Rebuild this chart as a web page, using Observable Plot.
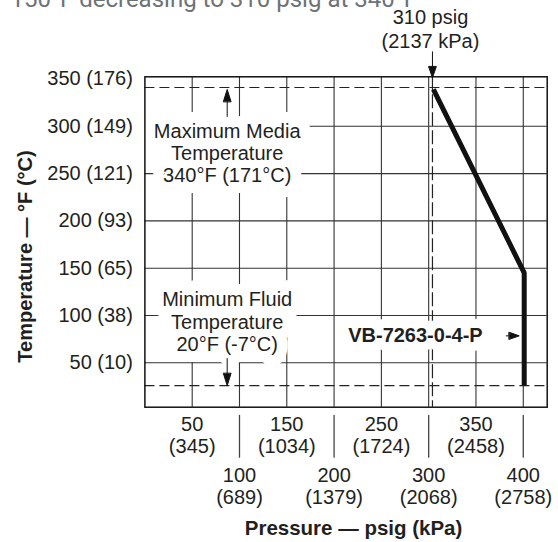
<!DOCTYPE html>
<html><head><meta charset="utf-8">
<script src="https://cdn.jsdelivr.net/npm/d3@7"></script>
<script src="https://cdn.jsdelivr.net/npm/@observablehq/plot@0.6"></script>
<style>body{margin:0;background:#fff;} svg{display:block}</style>
</head><body><div id="chart"></div>
<script>
// Data
const tempTicks = [50, 100, 150, 200, 250, 300, 350];
const tempCelsius = [10, 38, 65, 93, 121, 149, 176];
const pressureRow1 = [50, 150, 250, 350];
const kpaRow1 = [345, 1034, 1724, 2458];
const pressureRow2 = [100, 200, 300, 400];
const kpaRow2 = [689, 1379, 2068, 2758];
const gridPressure = [50, 100, 150, 200, 250, 300, 350, 400];
const gridTemp = [50, 100, 150, 200, 250, 300];
const curvePressure = [305, 401, 401];
const curveTemp = [339, 145, 26];
const limitTemps = [341, 26];          // max media / min fluid (as drawn)
const ratedPressure = [304];           // 310 psig marker (as drawn)
const annotationText = ["Maximum Media\nTemperature\n340°F (171°C)", "Minimum Fluid\nTemperature\n20°F (-7°C)"];
const annotationPressure = [87, 87];
const annotationTemp = [272, 93.7];
const modelLabel = ["VB-7263-0-4-P"];
const modelPressure = [286];
const modelTemp = [78.5];
const ratedLabel = ["310 psig\n(2137 kPa)"];
const headerText = ["150°F decreasing to 310 psig at 340°F"];
const xTitle = ["Pressure — psig (kPa)"];
const yTitle = ["Temperature — °F (°C)"];

const curve = curvePressure.map((p, i) => ({p, t: curveTemp[i]}));
const annotations = annotationText.map((text, i) => ({text, p: annotationPressure[i], t: annotationTemp[i]}));

const ink = "#231f20";
const fs = 20;
const lineShape = {draw(ctx, l) { ctx.moveTo(0, 0); ctx.lineTo(0, -l); }};
const arrowShape = (head, half) => ({draw(ctx, l) {
  ctx.moveTo(0, 0); ctx.lineTo(0, -l + head * 0.8);
  ctx.moveTo(-half, -l + head); ctx.lineTo(0, -l); ctx.lineTo(half, -l + head); ctx.closePath();
}});
const annotOpts = {x: "p", y: "t", text: "text", lineHeight: 1.12, fontSize: fs};
const modelOpts = {x: () => modelPressure[0], y: () => modelTemp[0], text: d => d, fontWeight: "bold", fontSize: fs};

const chart = Plot.plot({
  width: 558, height: 542,
  marginLeft: 144.4, marginRight: 11.3, marginTop: 76.3, marginBottom: 135.3,
  x: {domain: [0, 425.3], axis: null},
  y: {domain: [3.1, 352.3], axis: null},
  style: {fontFamily: "'Liberation Sans', Arial, sans-serif", fontSize: fs + "px", color: ink, background: "white"},
  marks: [
    Plot.gridX(gridPressure, {stroke: "#333", strokeOpacity: 1, strokeWidth: 1.1}),
    Plot.gridY(gridTemp, {stroke: "#333", strokeOpacity: 1, strokeWidth: 1.1}),
    Plot.ruleY(limitTemps, {stroke: "#222", strokeWidth: 1.2, strokeDasharray: "10,5"}),
    Plot.ruleX(ratedPressure, {stroke: "#222", strokeWidth: 1.2, strokeDasharray: "14,4"}),
    // white backing behind labels (cuts the grid like the reference)
    Plot.text(annotations, {...annotOpts, fill: "white", stroke: "white", strokeWidth: 22}),
    Plot.text(modelLabel, {...modelOpts, fill: "white", stroke: "white", strokeWidth: 18}),
    Plot.text(annotations, {...annotOpts, fill: ink}),
    Plot.text(modelLabel, {...modelOpts, fill: ink}),
    Plot.line(curve, {x: "p", y: "t", stroke: "#111", strokeWidth: 5, strokeLinejoin: "miter", strokeLinecap: "butt"}),
    Plot.frame({stroke: "#111", strokeWidth: 1.5}),
    // arrows
    Plot.vector([limitTemps[0]], {x: () => annotationPressure[0], y: d => d, anchor: "end", length: 27, rotate: 0, dy: 2, shape: arrowShape(12, 3.8), fill: "#111", stroke: "#111", strokeWidth: 1}),
    Plot.vector([limitTemps[1]], {x: () => annotationPressure[1], y: d => d, anchor: "end", length: 27, rotate: 180, shape: arrowShape(12, 3.8), fill: "#111", stroke: "#111", strokeWidth: 1}),
    Plot.vector(ratedPressure, {x: d => d, frameAnchor: "top", anchor: "end", length: 26, rotate: 180, dy: 1, shape: arrowShape(11, 3.8), fill: "#111", stroke: "#111", strokeWidth: 1}),
    Plot.vector([curvePressure[1]], {x: d => d, y: () => modelTemp[0], anchor: "end", length: 13, rotate: 90, dx: -5, shape: arrowShape(10, 3.5), fill: "#111", stroke: "#111", strokeWidth: 1}),
    // y axis
    Plot.axisY(tempTicks, {tickSize: 0, tickPadding: 12, fontSize: fs, fill: ink, label: null, tickFormat: d => `${d} (${tempCelsius[tempTicks.indexOf(d)]})`}),
    // x axis two rows
    Plot.text(pressureRow1, {x: d => d, frameAnchor: "bottom", lineAnchor: "top", dy: 8, lineHeight: 1.1, fontSize: fs, fill: ink, text: (d, i) => `${d}\n(${kpaRow1[i]})`}),
    Plot.vector(pressureRow2, {x: d => d, frameAnchor: "bottom", anchor: "start", length: 41.7, rotate: 180, dy: 8.3, shape: lineShape, stroke: "#444", strokeWidth: 1.3}),
    Plot.text(pressureRow2, {x: d => d, frameAnchor: "bottom", lineAnchor: "top", dy: 59.5, lineHeight: 1.1, fontSize: fs, fill: ink, text: (d, i) => `${d}\n(${kpaRow2[i]})`}),
    // labels
    Plot.text(ratedLabel, {x: () => ratedPressure[0], frameAnchor: "top", lineAnchor: "middle", dy: -48.3, dx: -2, lineHeight: 1.17, fontSize: fs, fill: ink, text: d => d}),
    Plot.text(xTitle, {frameAnchor: "bottom", textAnchor: "middle", lineAnchor: "middle", dx: 7.5, dy: 120.8, fontWeight: "bold", fontSize: 20.5, fill: ink, text: d => d}),
    Plot.text(yTitle, {frameAnchor: "left", textAnchor: "middle", rotate: -90, lineAnchor: "middle", dx: -118.9, dy: 14.5, fontWeight: "bold", fontSize: 20, fill: ink, text: d => d}),
    Plot.text(headerText, {frameAnchor: "top-left", textAnchor: "start", lineAnchor: "bottom", dx: -134.4, dy: -70, fontSize: 24, fontFamily: "Roboto, sans-serif", fill: "#6d7278", text: d => d})
  ]
});
document.getElementById("chart").appendChild(chart);
</script>
</body></html>
